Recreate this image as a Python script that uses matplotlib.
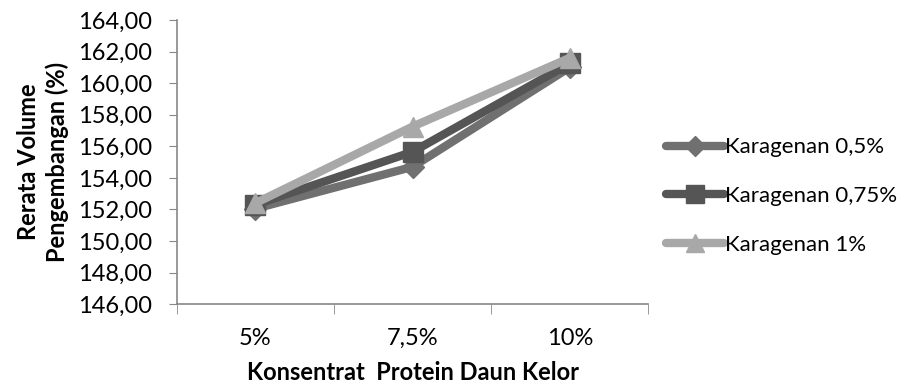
import matplotlib.pyplot as plt
import numpy as np

# data
categories = ['5%', '7,5%', '10%']
series_names = ['Karagenan 0,5%', 'Karagenan 0,75%', 'Karagenan 1%']
karagenan_05 = [152.05, 154.70, 161.00]
karagenan_075 = [152.30, 155.65, 161.25]
karagenan_1 = [152.40, 157.25, 161.60]
y_ticks = np.arange(146, 165, 2)

plt.rcParams['font.family'] = ['Lato', 'DejaVu Sans']

fig = plt.figure(figsize=(9.21, 3.85), dpi=100)
ax = fig.add_axes([0.192, 0.21, 0.512, 0.738])

x = np.arange(len(categories))
styles = [
    (karagenan_05, 'D', '#707070', 11),
    (karagenan_075, 's', '#555555', 15),
    (karagenan_1, '^', '#a8a8a8', 15),
]
for (vals, mk, col, ms), name in zip(styles, series_names):
    ax.plot(x, vals, color=col, lw=6, marker=mk, ms=ms, mfc=col, mec=col,
            label=name, solid_capstyle='round')

ax.set_xlim(-0.5, 2.5)
ax.set_ylim(146, 164)
ax.set_yticks(y_ticks)
ax.set_yticklabels([('%.2f' % v).replace('.', ',') for v in y_ticks])
ax.set_xticks(x)
ax.set_xticklabels(categories)
ax.set_xticks([-0.5, 0.5, 1.5, 2.5], minor=True)
ax.tick_params(axis='x', which='major', length=0, pad=17, labelsize=17, colors='#000000')
ax.tick_params(axis='x', which='minor', length=7, color='#888888', direction='out')
ax.tick_params(axis='y', length=6, color='#888888', labelsize=17, pad=12)

for s in ['top', 'right']:
    ax.spines[s].set_visible(False)
for s in ['left', 'bottom']:
    ax.spines[s].set_color('#888888')
    ax.spines[s].set_linewidth(1.2)

ax.set_xlabel('Konsentrat  Protein Daun Kelor', fontsize=17, fontweight='bold', labelpad=9)
ax.set_ylabel('Rerata Volume\nPengembangan (%)', fontsize=17, fontweight='bold', labelpad=6,
              linespacing=1.3)

ax.legend(loc='center left', bbox_to_anchor=(0.995, 0.38), frameon=False, fontsize=16,
          handlelength=2.6, handletextpad=0.05, labelspacing=1.3, markerscale=0.9)

fig.savefig('out.png', dpi=100)
